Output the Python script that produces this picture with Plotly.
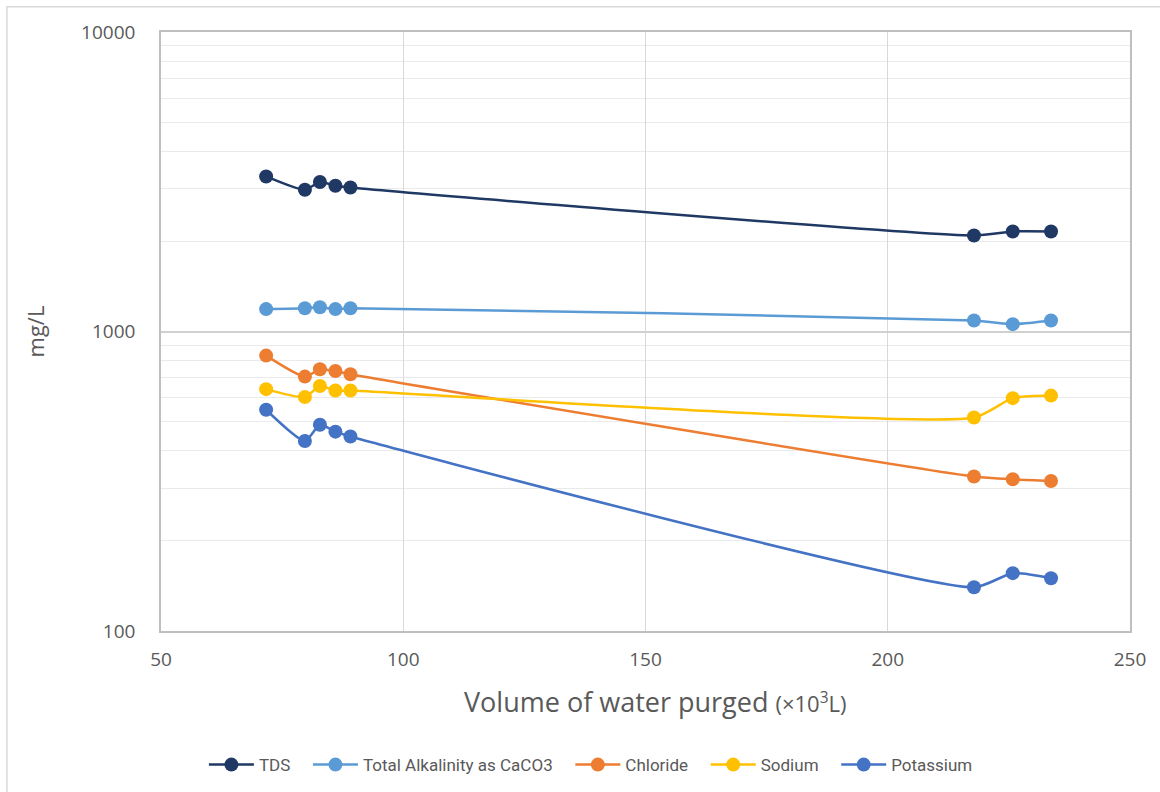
import plotly.graph_objects as go

# Volume of water purged (x10^3 L) at each sampling event
volume = [71.7, 79.7, 82.8, 86.0, 89.1, 217.8, 225.8, 233.7]

# Concentrations in mg/L
tds = [3294, 2973, 3155, 3065, 3024, 2093, 2158, 2158]
alkalinity = [1188, 1196, 1205, 1188, 1196, 1088, 1058, 1088]
chloride = [831, 707, 748, 738, 720, 328, 321, 317]
sodium = [642, 604, 658, 635, 635, 516, 599, 611]
potassium = [548, 431, 488, 463, 446, 140, 156, 150]

series_names = ["TDS", "Total Alkalinity as CaCO3", "Chloride", "Sodium", "Potassium"]
series_values = [tds, alkalinity, chloride, sodium, potassium]
colors = ["#203864", "#5B9BD5", "#ED7D31", "#FFC000", "#4472C4"]

x_ticks = [50, 100, 150, 200, 250]
y_ticks = [100, 1000, 10000]

# extra padding after each legend label
PAD = "\u00a0" * 3

fig = go.Figure()
for name, vals, col in zip(series_names, series_values, colors):
    fig.add_trace(go.Scatter(
        x=volume, y=vals, name=name + PAD, mode="lines+markers",
        line=dict(color=col, width=2.5, shape="spline", smoothing=0.6),
        marker=dict(color=col, size=14),
    ))

tick_font = dict(family="Open Sans, sans-serif", size=19, color="#595959")

fig.update_xaxes(
    range=[50, 250], tickvals=x_ticks, ticktext=[str(v) for v in x_ticks],
    showgrid=True, gridcolor="#D9D9D9", gridwidth=1,
    showline=True, linecolor="#BFBFBF", linewidth=1.5, mirror=True,
    zeroline=False, tickfont=tick_font, ticks="", ticklabelstandoff=10,
    automargin=False,
)
fig.update_yaxes(
    type="log", range=[2, 4], tickvals=y_ticks, ticktext=[str(v) for v in y_ticks],
    showgrid=True, gridcolor="#D0D0D0", gridwidth=1.5,
    minor=dict(showgrid=True, gridcolor="#EAEAEA", gridwidth=1,
               tickvals=[v * m for v in (100, 1000) for m in range(2, 10)]),
    showline=True, linecolor="#BFBFBF", linewidth=1.5, mirror=True,
    zeroline=False, tickfont=tick_font, ticks="", ticklabelstandoff=20,
    automargin=False,
    title=dict(text="mg/L", font=dict(family="Open Sans, sans-serif", size=22, color="#595959"),
               standoff=30),
)

fig.update_layout(
    width=1160, height=792,
    margin=dict(l=161, r=30, t=32, b=161, autoexpand=False),
    paper_bgcolor="white", plot_bgcolor="white",
    showlegend=True,
    legend=dict(
        orientation="h", xref="container", x=0.515, xanchor="center",
        yref="container", y=0.034, yanchor="middle",
        font=dict(family="Roboto, sans-serif", size=17, color="#595959"),
        itemwidth=45, tracegroupgap=0,
    ),
    annotations=[dict(
        text="Volume of water purged <span style='font-size:22px'>(×10<sup>3</sup>L)</span>",
        xref="paper", yref="paper", x=0.51, y=-0.118,
        xanchor="center", yanchor="middle", showarrow=False,
        font=dict(family="Open Sans, sans-serif", size=27, color="#595959"),
    )],
    shapes=[dict(type="rect", xref="paper", yref="paper",
                 x0=-0.159, y0=-0.3, x1=1.2, y1=1.042,
                 line=dict(color="#D9D9D9", width=1.5), fillcolor="rgba(0,0,0,0)",
                 layer="below")],
)

fig.write_html("out.html")
